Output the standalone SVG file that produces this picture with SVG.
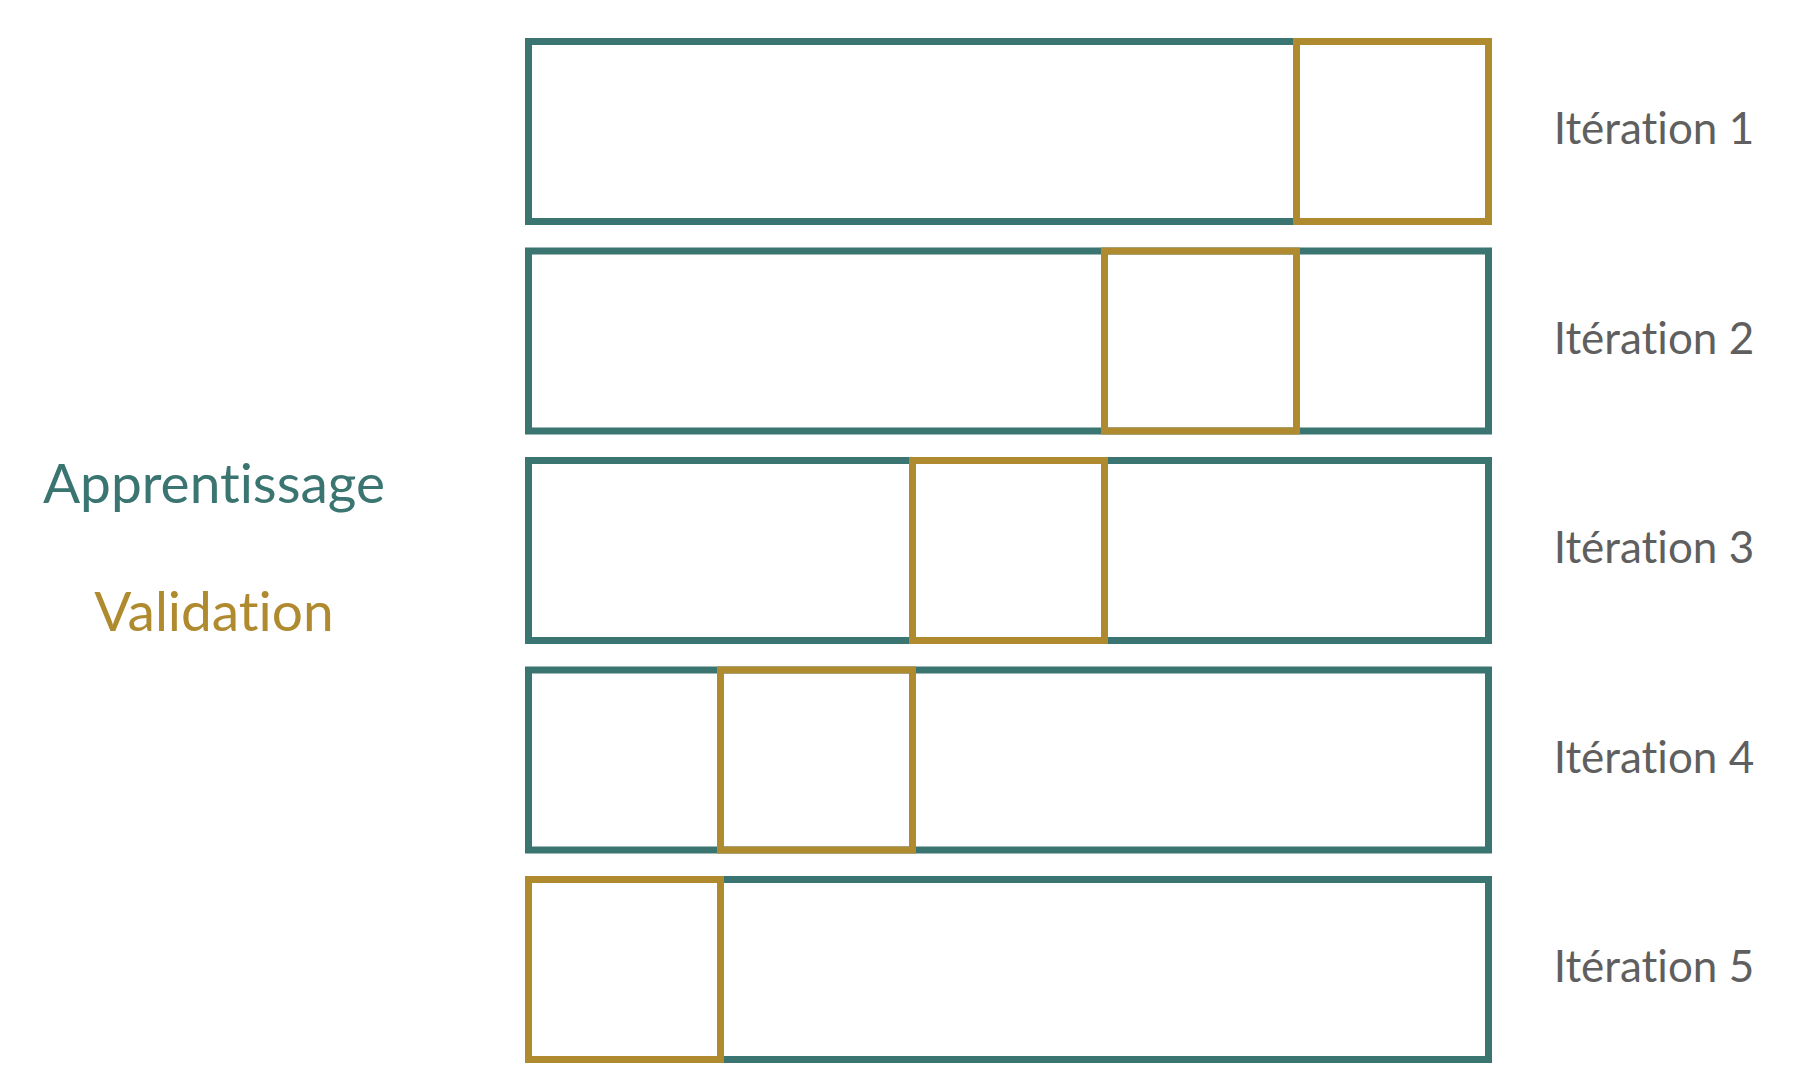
<svg xmlns="http://www.w3.org/2000/svg" width="1814" height="1088" viewBox="0 0 1814 1088">
  <style>
    .train { fill: none; stroke: #3A7571; stroke-width: 7; }
    .valid { fill: none; stroke: #AF8A2E; stroke-width: 7; }
    text { font-family: Lato, "Open Sans", "Liberation Sans", sans-serif; font-variant-ligatures: none; font-feature-settings: "liga" 0, "clig" 0; text-anchor: middle; }
    .iter { font-size: 44px; fill: #5F5F5F; }
    .legend { font-size: 55px; }
  </style>
  <rect width="1814" height="1088" fill="#FFFFFF"/>
  <g id="legend">
    <text class="legend" x="214" y="503" fill="#3A7571">Apprentissage</text>
    <text class="legend" x="214" y="631" fill="#AF8A2E">Validation</text>
  </g>
  <g id="iteration-1">
    <rect class="train" x="528.5" y="41.5" width="960" height="180"/>
    <rect class="valid" x="1296.5" y="41.5" width="192" height="180"/>
    <text class="iter" x="1654" y="144">Itération 1</text>
  </g>
  <g id="iteration-2">
    <rect class="train" x="528.5" y="251" width="960" height="180"/>
    <rect class="valid" x="1104.5" y="251" width="192" height="180"/>
    <text class="iter" x="1654" y="353.5">Itération 2</text>
  </g>
  <g id="iteration-3">
    <rect class="train" x="528.5" y="460.5" width="960" height="180"/>
    <rect class="valid" x="912.5" y="460.5" width="192" height="180"/>
    <text class="iter" x="1654" y="563">Itération 3</text>
  </g>
  <g id="iteration-4">
    <rect class="train" x="528.5" y="670" width="960" height="180"/>
    <rect class="valid" x="720.5" y="670" width="192" height="180"/>
    <text class="iter" x="1654" y="772.5">Itération 4</text>
  </g>
  <g id="iteration-5">
    <rect class="train" x="528.5" y="879.5" width="960" height="180"/>
    <rect class="valid" x="528.5" y="879.5" width="192" height="180"/>
    <text class="iter" x="1654" y="982">Itération 5</text>
  </g>
</svg>
